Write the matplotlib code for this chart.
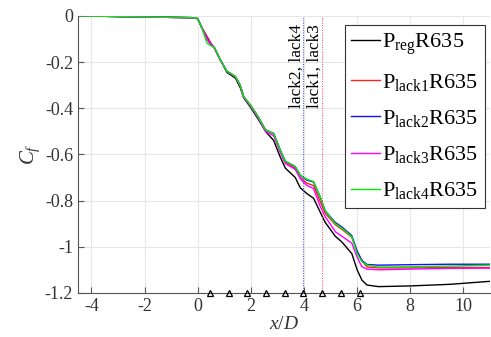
import matplotlib
matplotlib.use('Agg')
import numpy as np
import matplotlib.pyplot as plt

# x/D sample positions
x = [-4.5, -2.0, -0.2, 0.0, 0.15, 0.35, 0.5, 0.63, 0.85, 1.1, 1.42, 1.6, 1.73,
     1.98, 2.29, 2.55, 2.86, 3.1, 3.3, 3.67, 3.86, 4.11, 4.36, 4.61, 4.8,
     5.18, 5.43, 5.8, 6.0, 6.18, 6.37, 6.8, 8.0, 9.5, 11.0]

cf_reg = [0, -0.005, -0.008, -0.012, -0.05, -0.09, -0.12, -0.14, -0.19, -0.245,
          -0.27, -0.31, -0.355, -0.395, -0.45, -0.5, -0.54, -0.61, -0.66, -0.7,
          -0.745, -0.77, -0.79, -0.85, -0.895, -0.955, -0.98, -1.03, -1.1, -1.145,
          -1.166, -1.173, -1.17, -1.163, -1.15]
cf_lack1 = [0, -0.005, -0.008, -0.012, -0.05, -0.09, -0.12, -0.14, -0.19, -0.24,
            -0.263, -0.30, -0.35, -0.386, -0.44, -0.494, -0.51, -0.58, -0.635, -0.66,
            -0.70, -0.725, -0.735, -0.805, -0.855, -0.905, -0.925, -0.96, -1.02, -1.06,
            -1.088, -1.092, -1.092, -1.09, -1.09]
cf_lack2 = [0, -0.005, -0.008, -0.012, -0.05, -0.1, -0.125, -0.138, -0.19, -0.24,
            -0.263, -0.30, -0.35, -0.386, -0.44, -0.494, -0.51, -0.58, -0.63, -0.653,
            -0.69, -0.712, -0.72, -0.785, -0.845, -0.895, -0.915, -0.952, -1.02, -1.06,
            -1.077, -1.08, -1.078, -1.076, -1.076]
cf_lack3 = [0, -0.005, -0.008, -0.012, -0.05, -0.1, -0.125, -0.138, -0.19, -0.24,
            -0.265, -0.302, -0.352, -0.39, -0.445, -0.5, -0.52, -0.59, -0.64, -0.665,
            -0.705, -0.735, -0.748, -0.825, -0.87, -0.935, -0.955, -0.985, -1.045, -1.087,
            -1.097, -1.1, -1.097, -1.094, -1.093]
cf_lack4 = [0, -0.005, -0.008, -0.012, -0.05, -0.118, -0.13, -0.136, -0.19, -0.24,
            -0.263, -0.30, -0.35, -0.386, -0.44, -0.494, -0.51, -0.58, -0.63, -0.653,
            -0.69, -0.708, -0.718, -0.783, -0.845, -0.90, -0.92, -0.957, -1.03, -1.065,
            -1.08, -1.088, -1.087, -1.084, -1.08]

labels = [r'P$_{\mathrm{reg}}$R635', r'P$_{\mathrm{lack1}}$R635', r'P$_{\mathrm{lack2}}$R635',
          r'P$_{\mathrm{lack3}}$R635', r'P$_{\mathrm{lack4}}$R635']
colors = ['k', '#ff2020', '#1010ff', '#ff00ff', '#00ee00']

# roughness element positions (triangles on the bottom axis)
x_marks = [0.46, 1.17, 1.87, 2.58, 3.28, 3.98, 4.68, 5.4, 6.12]
x_lack24 = 3.98
x_lack13 = 4.68

if __name__ == '__main__':
    matplotlib.rcParams['font.family'] = ['Liberation Serif', 'DejaVu Serif']
    matplotlib.rcParams['mathtext.fontset'] = 'custom'
    matplotlib.rcParams['mathtext.rm'] = 'Liberation Serif'
    matplotlib.rcParams['mathtext.it'] = 'Liberation Serif:italic'
    matplotlib.rcParams['axes.unicode_minus'] = False

    fig = plt.figure(figsize=(4.91, 3.37), dpi=100)
    ax = fig.add_axes([0.159, 0.131, 0.839, 0.822])

    series = [cf_reg, cf_lack1, cf_lack2, cf_lack3, cf_lack4]
    for cf, c, lab in zip(series, colors, labels):
        ax.plot(x, cf, color=c, lw=1.0, label=lab)

    ax.axvline(x_lack24, color='#4040ff', ls=(0, (1, 1.5)), lw=0.7)
    ax.axvline(x_lack13, color='#ff4040', ls=(0, (1, 1.5)), lw=0.7)
    ax.text(x_lack24 + 0.03, -0.40, 'lack2, lack4', rotation=90, ha='right', va='bottom',
            fontsize=12.5)
    ax.text(x_lack13 + 0.03, -0.40, 'lack1, lack3', rotation=90, ha='right', va='bottom',
            fontsize=12.5)

    ax.plot(x_marks, [-1.2] * len(x_marks), ls='none', marker='^', ms=5, mfc='none',
            mec='k', mew=0.9, clip_on=False, zorder=5)

    ax.set_xlim(-4.5, 11)
    ax.set_ylim(-1.2, 0)
    ax.set_xticks([-4, -2, 0, 2, 4, 6, 8, 10])
    ax.set_yticks([-1.2, -1, -0.8, -0.6, -0.4, -0.2, 0])
    ax.set_yticklabels(['-1.2', '-1', '-0.8', '-0.6', '-0.4', '-0.2', '0'])
    ax.grid(True, color='#e6e6e6', lw=0.8)
    ax.set_axisbelow(True)
    for s in ['top', 'right']:
        ax.spines[s].set_visible(False)
    for s in ['left', 'bottom']:
        ax.spines[s].set_color('#555555')
    ax.tick_params(direction='in', length=4, colors='#555555', labelcolor='#333333',
                   labelsize=13)
    ax.set_xlabel('$x/D$', fontsize=14, color='#333333', labelpad=1)
    ax.set_ylabel('$C_f$', fontsize=15, color='#333333', labelpad=2)

    leg = ax.legend(loc='upper right', bbox_to_anchor=(0.988, 0.9675), borderaxespad=0,
                    fontsize=16, handlelength=1.3, handletextpad=0.1, labelspacing=0.68,
                    borderpad=0.3, fancybox=False, framealpha=1, edgecolor='#333333')
    leg.get_frame().set_linewidth(0.8)

    fig.savefig('out.png', dpi=100)
